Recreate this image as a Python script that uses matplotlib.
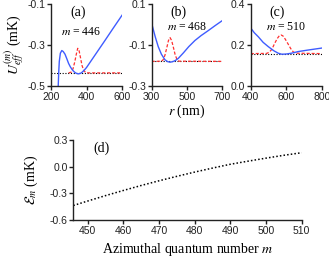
import matplotlib
matplotlib.use("Agg")
import matplotlib.pyplot as plt

plt.rcParams['font.family'] = 'Liberation Sans'
plt.rcParams['mathtext.fontset'] = 'stix'
plt.rcParams['axes.unicode_minus'] = False

# effective potential curves (r in nm, U in mK)
r_a = [242, 245, 248, 254, 262, 270, 280, 290, 300, 310, 320, 330, 340, 354, 370, 385, 400, 450, 500, 550, 600]
U_a = [-0.50, -0.43, -0.38, -0.34, -0.327, -0.332, -0.345, -0.367, -0.39, -0.407, -0.42, -0.43, -0.437, -0.441, -0.437, -0.425, -0.41, -0.346, -0.282, -0.217, -0.153]
r_b = [300, 320, 337, 355, 375, 390, 404, 420, 435, 451, 480, 510, 545, 580, 620, 660, 700]
U_b = [0.005, -0.06, -0.108, -0.145, -0.172, -0.181, -0.184, -0.181, -0.175, -0.165, -0.138, -0.108, -0.078, -0.054, -0.030, -0.005, 0.019]
r_c = [400, 420, 443, 470, 499, 530, 555, 575, 600, 630, 668, 720, 760, 800]
U_c = [0.283, 0.26, 0.24, 0.213, 0.192, 0.172, 0.16, 0.155, 0.156, 0.16, 0.168, 0.175, 0.18, 0.185]

# probability density (shifted to energy level)
rp_a = [300, 315, 325, 335, 343, 351, 358, 366, 375, 385, 395, 410, 600]
P_a = [-0.436, -0.432, -0.415, -0.38, -0.345, -0.316, -0.325, -0.36, -0.40, -0.425, -0.434, -0.436, -0.436]
rp_b = [300, 355, 365, 375, 385, 395, 404, 413, 423, 433, 443, 455, 700]
P_b = [-0.18, -0.179, -0.172, -0.15, -0.115, -0.078, -0.064, -0.078, -0.112, -0.148, -0.17, -0.179, -0.18]
rp_c = [400, 490, 505, 520, 535, 550, 562, 571, 582, 595, 610, 625, 640, 655, 800]
P_c = [0.158, 0.159, 0.165, 0.18, 0.208, 0.232, 0.246, 0.249, 0.244, 0.228, 0.206, 0.183, 0.166, 0.16, 0.158]

# energy levels
E_a, E_b, E_c = -0.436, -0.18, 0.158
m_vals = [446, 468, 510]

# panel d
m = [446, 450, 455, 460, 465, 470, 475, 480, 485, 490, 495, 500, 505, 510]
Em = [-0.437, -0.387, -0.326, -0.268, -0.212, -0.159, -0.109, -0.061, -0.016, 0.027, 0.062, 0.096, 0.128, 0.157]

fig = plt.figure(figsize=(3.29, 2.65), dpi=100)
W, H = 329.0, 265.0

def box(x0, x1, y0, y1):
    return [x0 / W, 1 - y1 / H, (x1 - x0) / W, (y1 - y0) / H]

def style(ax):
    for s in ['top', 'right']:
        ax.spines[s].set_visible(False)
    for s in ['left', 'bottom']:
        ax.spines[s].set_linewidth(1.0)
        ax.spines[s].set_color('#222222')
    ax.tick_params(direction='out', length=3, width=1, labelsize=7.5, pad=1, colors='#222222')

axa = fig.add_axes(box(50.7, 122.3, 4, 86))
axb = fig.add_axes(box(151.7, 222.3, 4, 86))
axc = fig.add_axes(box(250.7, 321.7, 4, 86))
axd = fig.add_axes(box(73.3, 301.7, 140, 220))

panels = [
    (axa, r_a, U_a, rp_a, P_a, E_a, (200, 600), (-0.5, -0.1), [200, 400, 600], [-0.5, -0.3, -0.1], '(a)'),
    (axb, r_b, U_b, rp_b, P_b, E_b, (300, 700), (-0.3, 0.1), [300, 500, 700], [-0.3, -0.1, 0.1], '(b)'),
    (axc, r_c, U_c, rp_c, P_c, E_c, (400, 800), (0.0, 0.4), [400, 600, 800], [0.0, 0.2, 0.4], '(c)'),
]
for i, (ax, r, U, rp, P, E, xl, yl, xt, yt, lab) in enumerate(panels):
    ax.plot(xl, [E, E], color='black', ls=(0, (1, 1.5)), lw=0.8)
    ax.plot(rp, P, color='#ff3030', ls=(0, (2.5, 1.5)), lw=0.9)
    ax.plot(r, U, color='#3f5cff', lw=1.0)
    ax.set_xlim(xl)
    ax.set_ylim(yl)
    ax.set_xticks(xt)
    ax.set_yticks(yt)
    ax.set_yticklabels(['%.1f' % v for v in yt])
    style(ax)
    ax.text(0.27, 0.9, lab, transform=ax.transAxes, family='Liberation Serif', fontsize=10, va='center')
    ax.text(0.15 if i == 0 else 0.5, 0.66 if i == 0 else 0.72, r'$m$ = %d' % m_vals[i], transform=ax.transAxes,
            family='Liberation Serif', fontsize=8.5, va='center', ha='left' if i == 0 else 'center')

axa.set_ylabel(r'$U_{eff}^{(m)}$ (mK)', family='Liberation Serif', fontsize=10, labelpad=1)
axb.set_xlabel(r'$r$ (nm)', family='Liberation Serif', fontsize=10, labelpad=1)

# panel d
axd.plot(m, Em, color='black', ls=(0, (1, 1.4)), lw=1.1)
axd.set_xlim(446, 510)
axd.set_ylim(-0.6, 0.3)
axd.set_xticks(range(450, 511, 10))
axd.set_yticks([-0.6, -0.3, 0.0, 0.3])
axd.set_yticklabels(['-0.6', '-0.3', '0.0', '0.3'])
style(axd)
axd.text(0.09, 0.9, '(d)', transform=axd.transAxes, family='Liberation Serif', fontsize=10, va='center')
axd.set_ylabel(r'$\mathcal{E}_m$ (mK)', family='Liberation Serif', fontsize=10, labelpad=7)
axd.set_xlabel(r'Azimuthal quantum number $m$', family='Liberation Serif', fontsize=10, labelpad=4)

fig.savefig('out.png', dpi=100)
